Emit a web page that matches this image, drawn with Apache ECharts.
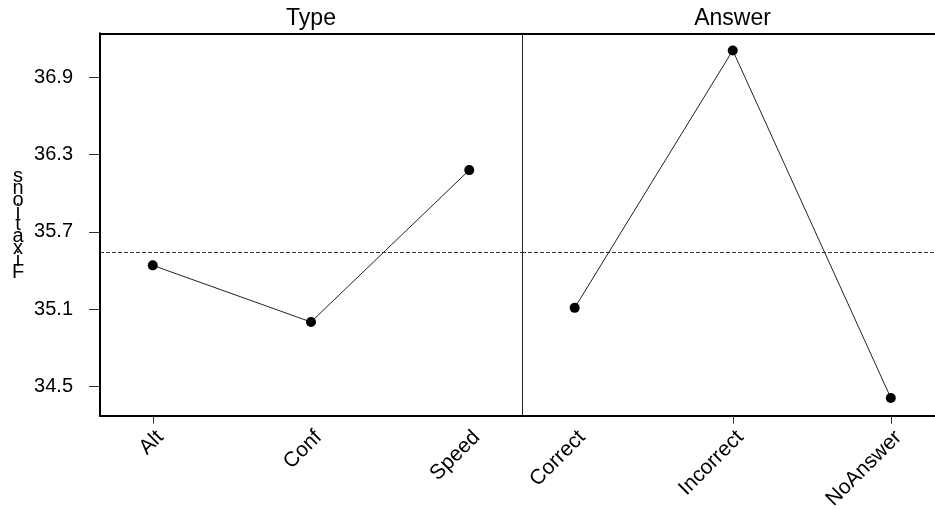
<!DOCTYPE html>
<html>
<head>
<meta charset="utf-8">
<script src="https://cdn.jsdelivr.net/npm/echarts@6/dist/echarts.min.js"></script>
<style>html,body{margin:0;padding:0;background:#fff;}#c{width:935px;height:510px;}</style>
</head>
<body>
<div id="c"></div>
<script>
const typeCats = ['Alt', 'Conf', 'Speed'];
const typeVals = [35.44, 35.00, 36.18];
const answerCats = ['Correct', 'Incorrect', 'NoAnswer'];
const answerVals = [35.11, 37.11, 34.41];
const grandMean = 35.54;
const yTicks = [34.5, 35.1, 35.7, 36.3, 36.9];
const panelTitles = ['Type', 'Answer'];
const yLabel = 'Fixations';

const FONT = 'Liberation Sans, Arial, sans-serif';
const yMin = 34.272, yMax = 37.243;
const xMin = -1/3, xMax = 7/3;

const chart = echarts.init(document.getElementById('c'), null, {renderer: 'canvas'});

function xAxisFor(gridIndex, cats, tickIdx) {
  return {
    type: 'value', gridIndex: gridIndex, min: xMin, max: xMax, position: 'bottom',
    splitLine: {show: false},
    axisLine: {show: true, onZero: false, lineStyle: {color: '#000', width: 2}},
    axisTick: {show: true, customValues: tickIdx, length: 8, lineStyle: {color: '#333', width: 1}},
    axisLabel: {
      show: true, customValues: [0, 1, 2], rotate: 45, margin: 11, verticalAlign: 'top',
      fontFamily: FONT, fontSize: 21, color: '#000',
      formatter: v => cats[Math.round(v)]
    }
  };
}
function topAxis(gridIndex) {
  return {
    type: 'value', gridIndex: gridIndex, min: xMin, max: xMax, position: 'top',
    splitLine: {show: false},
    axisLine: {show: true, onZero: false, lineStyle: {color: '#000', width: 2}},
    axisTick: {show: false}, axisLabel: {show: false}
  };
}

const reversedLabel = yLabel.split('').reverse().join('\n');

chart.setOption({
  animation: false,
  backgroundColor: '#fff',
  grid: [
    {left: 100, top: 33.3, width: 422, height: 382.4, outerBoundsMode: 'none', containLabel: false},
    {left: 522, top: 33.3, width: 421.5, height: 382.4, outerBoundsMode: 'none', containLabel: false}
  ],
  xAxis: [
    xAxisFor(0, typeCats, [0]),
    xAxisFor(1, answerCats, [1, 2]),
    topAxis(0),
    topAxis(1)
  ],
  yAxis: [
    {
      type: 'value', gridIndex: 0, min: yMin, max: yMax,
      splitLine: {show: false},
      axisLine: {show: true, onZero: false, lineStyle: {color: '#000', width: 2}},
      axisTick: {show: true, customValues: yTicks, length: 11, lineStyle: {color: '#333', width: 1}},
      axisLabel: {show: true, customValues: yTicks, margin: 27, fontFamily: FONT, fontSize: 20, color: '#000',
        formatter: v => v.toFixed(1)}
    },
    {
      type: 'value', gridIndex: 1, min: yMin, max: yMax,
      splitLine: {show: false},
      axisLine: {show: true, onZero: false, lineStyle: {color: '#222', width: 1}},
      axisTick: {show: false}, axisLabel: {show: false}
    }
  ],
  graphic: [
    {type: 'text', x: 311, y: 18.5, style: {text: panelTitles[0], font: '23px ' + FONT, fill: '#000', align: 'center', verticalAlign: 'middle'}},
    {type: 'text', x: 732.5, y: 18.5, style: {text: panelTitles[1], font: '23px ' + FONT, fill: '#000', align: 'center', verticalAlign: 'middle'}},
    {type: 'text', x: 18, y: 170, style: {text: reversedLabel, font: '20px ' + FONT, lineHeight: 12, fill: '#000', align: 'center', verticalAlign: 'top'}}
  ],
  series: [
    {
      type: 'line', xAxisIndex: 0, yAxisIndex: 0,
      data: typeVals.map((v, i) => [i, v]),
      symbol: 'circle', symbolSize: 10,
      itemStyle: {color: '#000'},
      lineStyle: {color: '#222', width: 1},
      markLine: {silent: true, symbol: 'none', label: {show: false},
        lineStyle: {color: '#333', type: [4, 2], width: 1}, data: [{yAxis: grandMean}]}
    },
    {
      type: 'line', xAxisIndex: 1, yAxisIndex: 1,
      data: answerVals.map((v, i) => [i, v]),
      symbol: 'circle', symbolSize: 10,
      itemStyle: {color: '#000'},
      lineStyle: {color: '#222', width: 1},
      markLine: {silent: true, symbol: 'none', label: {show: false},
        lineStyle: {color: '#333', type: [4, 2], width: 1}, data: [{yAxis: grandMean}]}
    }
  ]
});
</script>
</body>
</html>
